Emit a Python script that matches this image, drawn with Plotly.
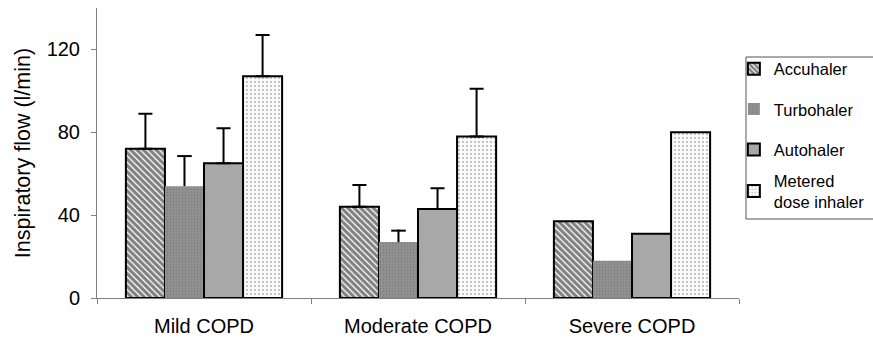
import plotly.graph_objects as go

categories = ["Mild COPD", "Moderate COPD", "Severe COPD"]
series_names = ["Accuhaler", "Turbohaler", "Autohaler", "Metered<br>dose inhaler"]
accuhaler = [72, 44, 37]
turbohaler = [54, 27, 18]
autohaler = [65, 43, 31]
mdi = [107, 78, 80]
# upward SD bars (none shown for severe COPD)
accuhaler_err = [17, 10.5]
turbohaler_err = [15, 6]
autohaler_err = [17, 10]
mdi_err = [20, 23]
y_ticks = [0, 40, 80, 120]

FONT = "Liberation Sans, Arial, Helvetica, sans-serif"

styles = [
    dict(marker=dict(color="white", line=dict(color="black", width=2),
                     pattern=dict(shape="\\", fgcolor="black", bgcolor="white", size=4.5, solidity=0.7))),
    dict(marker=dict(color="#8c8c8c", line=dict(color="#8c8c8c", width=0),
                     pattern=dict(shape=".", fgcolor="#6c6c6c", bgcolor="#939393", size=3, solidity=0.3))),
    dict(marker=dict(color="#a8a8a8", line=dict(color="black", width=2))),
    dict(marker=dict(color="white", line=dict(color="black", width=2),
                     pattern=dict(shape=".", fgcolor="#8a8a8a", bgcolor="white", size=4, solidity=0.3))),
]
values = [accuhaler, turbohaler, autohaler, mdi]
errs = [accuhaler_err, turbohaler_err, autohaler_err, mdi_err]
legends = ["legend", "legend", "legend", "legend2"]

fig = go.Figure()
for i, (name, vals, err, st) in enumerate(zip(series_names, values, errs, styles)):
    if i == 1:
        eb = None
    else:
        eb = dict(type="data", symmetric=False, array=err, arrayminus=[0] * len(err),
                  color="black", thickness=2, width=7)
    fig.add_trace(go.Bar(
        x=categories, y=vals, name=name, legendgroup=f"g{i}", offsetgroup=str(i),
        legend=legends[i], error_y=eb, **st,
    ))

# Turbohaler has no outline: draw its upward-only SD bar (stem + cap) without a bottom shoe
n_err = len(turbohaler_err)
cap_h = 0.97  # ~2 px in data units
fig.add_trace(go.Bar(
    x=categories[:n_err], y=turbohaler_err, base=turbohaler[:n_err], offsetgroup="1",
    width=0.0095, marker=dict(color="black", line=dict(width=0)),
    showlegend=False, hoverinfo="skip",
))
fig.add_trace(go.Bar(
    x=categories[:n_err], y=[cap_h] * n_err,
    base=[v + e - cap_h for v, e in zip(turbohaler[:n_err], turbohaler_err)],
    offsetgroup="1", width=0.068, marker=dict(color="black", line=dict(width=0)),
    showlegend=False, hoverinfo="skip",
))

fig.update_layout(
    width=873, height=345,
    margin=dict(l=97, r=134, t=8, b=47, autoexpand=False),
    paper_bgcolor="white", plot_bgcolor="white",
    barmode="group", bargap=0.27, bargroupgap=0,
    font=dict(family=FONT, size=20, color="black"),
    showlegend=True,
    legend=dict(x=0.992, xanchor="left", y=0.8503, yanchor="top",
                font=dict(size=16.5, family=FONT), bgcolor="rgba(0,0,0,0)",
                borderwidth=0, tracegroupgap=16, traceorder="grouped"),
    legend2=dict(x=0.992, xanchor="left", y=0.369, yanchor="middle",
                 font=dict(size=16.5, family=FONT), bgcolor="rgba(0,0,0,0)",
                 borderwidth=0),
    shapes=[dict(type="rect", xref="paper", yref="paper",
                 x0=1.0109, x1=1.5, y0=0.2724, y1=0.831,
                 line=dict(color="#555555", width=1), fillcolor="rgba(0,0,0,0)")],
)
fig.update_xaxes(
    showline=True, linecolor="#808080", linewidth=1,
    ticks="outside", tickson="boundaries", ticklen=5, tickcolor="#808080",
    showgrid=False, ticklabelstandoff=10, tickfont=dict(size=20),
)
fig.update_yaxes(
    range=[0, 140], tickvals=y_ticks, showline=True, linecolor="#808080", linewidth=1,
    ticks="outside", ticklen=5, tickcolor="#808080", showgrid=False, zeroline=False,
    ticklabelstandoff=7, tickfont=dict(size=20),
    title=dict(text="Inspiratory flow (l/min)", font=dict(size=21.5), standoff=10),
)

fig.write_html("out.html", config={"displayModeBar": False},
               post_script="document.body.style.margin='0';document.body.style.overflow='hidden';")
